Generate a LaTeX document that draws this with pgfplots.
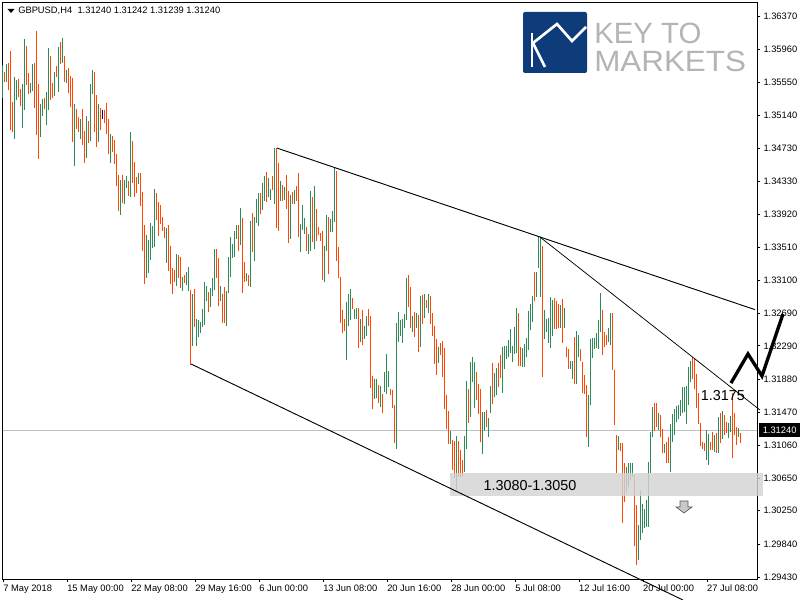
\documentclass[border=0pt]{standalone}
\usepackage{fontspec}
\setmainfont{Liberation Sans}
\usepackage{graphicx}
\usepackage{pgfplots}
\usepackage{pgfplotstable}
\pgfplotsset{compat=1.18}

\definecolor{upc}{RGB}{46,139,87}
\definecolor{dnc}{RGB}{255,69,0}
\definecolor{dojic}{RGB}{0,0,128}
\definecolor{logoblue}{RGB}{14,59,122}
\definecolor{logogray}{RGB}{180,180,180}
\definecolor{bandgray}{RGB}{211,211,211}
\definecolor{bidline}{RGB}{192,192,192}

% GBPUSD H4 bars: high, low, direction (1 up, 0 down, 2 doji)
\pgfplotstableread{
h l d
1.35764 1.35356 1
1.35677 1.35553 0
1.35777 1.35553 1
1.35789 1.35455 0
1.35938 1.34960 0
1.35306 1.34935 0
1.35615 1.34849 1
1.35578 1.35331 1
1.35591 1.35368 0
1.35467 1.35257 0
1.35529 1.34985 1
1.36086 1.35207 1
1.35999 1.35516 0
1.35665 1.35406 0
1.35541 1.35418 1
1.35777 1.35443 1
1.35789 1.35232 0
1.36185 1.34898 0
1.35529 1.34602 0
1.35282 1.34873 1
1.35344 1.35133 1
1.35356 1.35220 0
1.35430 1.35022 1
1.35974 1.35207 1
1.35876 1.35331 0
1.35541 1.35356 0
1.35677 1.35381 1
1.35752 1.35615 0
1.35986 1.35430 1
1.36048 1.35777 0
1.36098 1.35789 1
1.35876 1.35553 0
1.35702 1.35541 1
1.35727 1.35418 0
1.35628 1.35244 0
1.35603 1.34811 0
1.35282 1.34515 1
1.35220 1.34973 0
1.35120 1.34935 0
1.35096 1.34849 1
1.35220 1.34774 0
1.34948 1.34552 0
1.35133 1.34614 1
1.35072 1.34799 0
1.35529 1.34824 1
1.35702 1.35406 1
1.35677 1.34935 0
1.35393 1.34749 0
1.35282 1.34811 1
1.35232 1.34960 0
1.35207 1.35096 2
1.35207 1.35047 0
1.35294 1.34911 0
1.35096 1.34664 0
1.34911 1.34552 1
1.34886 1.34688 0
1.34836 1.34540 0
1.34664 1.34267 0
1.34403 1.33958 0
1.34341 1.33908 1
1.34403 1.34057 0
1.34341 1.34045 1
1.34391 1.34242 1
1.34329 1.34144 0
1.34935 1.34131 1
1.34824 1.34304 0
1.34564 1.34131 0
1.34378 1.34181 0
1.34428 1.34292 1
1.34428 1.34020 0
1.34193 1.33464 0
1.33785 1.33055 0
1.33661 1.33129 1
1.33599 1.33191 1
1.33810 1.33352 1
1.33773 1.33500 1
1.34230 1.33512 1
1.34181 1.33847 0
1.34069 1.33649 0
1.34032 1.33798 0
1.33883 1.33711 0
1.33760 1.33624 0
1.33748 1.33315 1
1.33785 1.33216 0
1.33525 1.33055 0
1.33253 1.32932 0
1.33228 1.33079 0
1.33427 1.33030 1
1.33414 1.33129 0
1.33389 1.33005 0
1.33141 1.32969 1
1.33166 1.33067 0
1.33203 1.33042 1
1.33265 1.32969 1
1.32981 1.32053 0
1.32932 1.32288 1
1.32993 1.32523 0
1.32622 1.32288 1
1.32610 1.32399 1
1.32585 1.32449 1
1.32746 1.32523 1
1.33079 1.32548 1
1.33030 1.32845 1
1.32956 1.32708 0
1.33005 1.32770 1
1.33129 1.32907 1
1.33488 1.32981 1
1.33488 1.33129 0
1.33377 1.32783 0
1.33030 1.32845 1
1.32932 1.32573 0
1.33017 1.32573 0
1.32969 1.32536 1
1.33389 1.32944 1
1.33636 1.33141 1
1.33550 1.33377 1
1.33711 1.33389 1
1.33785 1.33612 1
1.33785 1.33464 0
1.33995 1.33537 1
1.33871 1.32944 0
1.33327 1.33079 0
1.33191 1.33092 1
1.33166 1.33030 0
1.33835 1.33017 1
1.33933 1.33451 0
1.33883 1.33340 1
1.34107 1.33810 1
1.34181 1.33773 1
1.34181 1.33921 0
1.34304 1.33970 1
1.34391 1.34082 1
1.34440 1.34069 0
1.34366 1.34131 1
1.34230 1.34094 1
1.34391 1.34218 0
1.34737 1.34045 1
1.34737 1.33748 0
1.34552 1.33711 0
1.34329 1.34082 1
1.34279 1.34082 0
1.34254 1.34094 1
1.34403 1.33983 0
1.34206 1.33562 0
1.34156 1.33612 1
1.34193 1.34045 0
1.34218 1.34045 1
1.34267 1.34082 0
1.34428 1.33636 0
1.33798 1.33451 1
1.34032 1.33723 1
1.33871 1.33674 1
1.33760 1.33464 0
1.33674 1.33427 1
1.34206 1.33464 1
1.34131 1.33574 0
1.34267 1.33488 1
1.33983 1.33587 0
1.33760 1.33661 0
1.33686 1.33587 0
1.33711 1.33104 0
1.33525 1.33079 1
1.33908 1.33464 1
1.33883 1.33179 0
1.33859 1.33698 1
1.33958 1.33698 1
1.34490 1.33822 1
1.34453 1.33340 0
1.33512 1.33129 0
1.33141 1.32573 0
1.32733 1.32449 0
1.32622 1.32474 0
1.32832 1.32115 1
1.32932 1.32536 1
1.32993 1.32610 1
1.32882 1.32746 0
1.32746 1.32622 1
1.32758 1.32622 1
1.32758 1.32263 0
1.32622 1.32337 1
1.32733 1.32300 0
1.32536 1.32375 1
1.32659 1.32412 1
1.32746 1.32536 0
1.32659 1.31768 0
1.31917 1.31509 0
1.31880 1.31633 1
1.31880 1.31645 1
1.31805 1.31583 0
1.31793 1.31533 1
1.31695 1.31459 0
1.31966 1.31719 1
1.32190 1.31695 1
1.31979 1.31780 1
1.31756 1.31682 0
1.31744 1.31521 0
1.31558 1.31088 0
1.32573 1.31014 1
1.32708 1.32337 1
1.32610 1.32412 1
1.32622 1.32325 1
1.32684 1.32511 1
1.33129 1.32610 1
1.33166 1.32770 0
1.33017 1.32511 0
1.32659 1.32461 1
1.32708 1.32399 0
1.32696 1.32511 1
1.32671 1.32214 0
1.32907 1.32275 1
1.32919 1.32561 0
1.32932 1.32634 1
1.32857 1.32758 0
1.32932 1.32696 1
1.32907 1.32561 0
1.32696 1.32412 0
1.32536 1.32066 0
1.32375 1.31929 0
1.32275 1.32078 1
1.32325 1.32177 0
1.32350 1.31904 0
1.32263 1.31509 0
1.31682 1.31262 0
1.31484 1.31076 0
1.31237 1.31076 1
1.31125 1.30754 0
1.31113 1.30655 0
1.31175 1.30507 1
1.31113 1.30667 0
1.31002 1.30667 0
1.30878 1.30667 0
1.31175 1.30729 1
1.31855 1.31014 1
1.31756 1.31336 0
1.32090 1.31409 1
1.32152 1.31842 1
1.32090 1.31521 1
1.31966 1.31620 0
1.31818 1.31447 0
1.31756 1.31100 0
1.31471 1.30953 1
1.31471 1.31237 1
1.31496 1.31286 0
1.31397 1.31162 1
1.31793 1.31459 1
1.32078 1.31571 0
1.31954 1.31657 1
1.32016 1.31682 1
1.32078 1.31780 0
1.32177 1.31892 0
1.32275 1.31707 1
1.32288 1.32004 1
1.32288 1.32128 1
1.32362 1.32152 1
1.32499 1.32202 1
1.32288 1.32090 1
1.32523 1.32190 1
1.32758 1.32202 1
1.32696 1.32041 0
1.32275 1.32041 0
1.32263 1.32028 1
1.32313 1.32028 1
1.32387 1.32152 1
1.32721 1.32239 1
1.32808 1.32486 1
1.32907 1.32585 1
1.33203 1.32845 0
1.33203 1.32894 1
1.33636 1.33253 1
1.33624 1.32894 1
1.33525 1.31904 0
1.32733 1.32375 1
1.32622 1.32461 1
1.32634 1.32325 1
1.32894 1.32263 1
1.32857 1.32412 1
1.32882 1.32499 0
1.32845 1.32499 0
1.32808 1.32511 0
1.32795 1.32511 1
1.32870 1.32325 0
1.32758 1.32511 1
1.32275 1.32152 0
1.32251 1.32004 0
1.32103 1.32004 1
1.32103 1.31880 1
1.32399 1.31818 0
1.32474 1.31818 1
1.32424 1.32152 1
1.32251 1.32103 0
1.32090 1.31707 0
1.31929 1.31695 0
1.31805 1.31162 0
1.31682 1.31038 1
1.32375 1.31558 1
1.32387 1.32140 1
1.32387 1.32251 1
1.32449 1.32263 1
1.32610 1.32251 1
1.32944 1.32461 1
1.32733 1.32177 0
1.32461 1.32275 0
1.32424 1.32300 0
1.32511 1.32337 1
1.32696 1.32300 1
1.32696 1.31991 0
1.31991 1.31311 0
1.31187 1.30717 0
1.31175 1.31002 1
1.31088 1.30990 0
1.31088 1.30099 0
1.30841 1.30358 0
1.30791 1.30470 1
1.30841 1.30543 1
1.30841 1.30630 1
1.30841 1.30667 1
1.30692 1.29814 0
1.30321 1.29579 0
1.30074 1.29641 1
1.30507 1.29888 1
1.30334 1.29975 1
1.30272 1.30037 1
1.30383 1.30049 1
1.30853 1.30049 1
1.31224 1.30717 1
1.31533 1.31162 1
1.31583 1.31237 0
1.31583 1.31286 0
1.31459 1.31249 1
1.31434 1.31162 0
1.31262 1.30965 0
1.31076 1.30965 1
1.31100 1.30841 0
1.31162 1.30841 0
1.31324 1.30729 1
1.31447 1.31100 1
1.31509 1.31187 1
1.31546 1.31348 1
1.31558 1.31385 1
1.31620 1.31422 1
1.31780 1.31459 1
1.31780 1.31471 1
1.31793 1.31324 1
1.32028 1.31558 1
1.32103 1.31842 1
1.32152 1.31880 0
1.32128 1.31756 0
1.31942 1.31521 0
1.31707 1.31324 0
1.31336 1.31051 0
1.31100 1.31014 0
1.31088 1.30990 0
1.31249 1.30878 1
1.31200 1.30816 1
1.31100 1.31002 0
1.31224 1.31002 0
1.31187 1.30977 1
1.31212 1.30965 0
1.31409 1.30965 1
1.31459 1.31088 0
1.31484 1.31138 1
1.31434 1.31187 0
1.31348 1.31212 0
1.31336 1.31150 1
1.31422 1.31224 1
1.31707 1.30903 0
1.31459 1.31187 0
1.31286 1.31063 0
1.31274 1.31162 1
1.31212 1.31088 0
}\bars

\begin{document}
\begin{tikzpicture}
\begin{axis}[
    at={(0,0)}, anchor=south west,
    scale only axis, width=565.7pt, height=432.2pt,
    xmin=-0.15, xmax=377, ymin=1.29406, ymax=1.36535,
    clip=false,
    axis line style={line width=0.6pt},
    tick align=outside, major tick length=2.5pt,
    tick style={black, line width=0.6pt},
    xtick pos=bottom, ytick pos=right, yticklabel pos=right,
    ytick={1.36370,1.35960,1.35550,1.35140,1.34730,1.34330,1.33920,1.33510,1.33100,
           1.32690,1.32290,1.31880,1.31470,1.31060,1.30650,1.30250,1.29840,1.29430},
    yticklabels={1.36370,1.35960,1.35550,1.35140,1.34730,1.34330,1.33920,1.33510,1.33100,
           1.32690,1.32290,1.31880,1.31470,1.31060,1.30650,1.30250,1.29840,1.29430},
    xtick={0,32,...,352},
    xticklabels={7 May 2018,15 May 00:00,22 May 08:00,29 May 16:00,6 Jun 00:00,
           13 Jun 08:00,20 Jun 16:00,28 Jun 00:00,5 Jul 08:00,12 Jul 16:00,
           20 Jul 00:00,27 Jul 08:00},
    tick label style={font=\fontsize{7}{8}\selectfont},
    yticklabel style={anchor=west, inner sep=0pt, xshift=2.2pt},
    xticklabel style={anchor=north west, inner sep=0pt, yshift=-1.5pt},
]
% bid line
\draw[bidline, line width=0.75pt] (axis cs:-0.15,1.31240) -- (axis cs:377,1.31240);

% bars
\addplot[upc, line width=0.75pt, mark=none,
    restrict expr to domain={\thisrow{d}}{0.5:1.5},
    quiver={u=0, v=\thisrow{h}-\thisrow{l}}]
    table[x expr=\coordindex, y=l] {\bars};
\addplot[dnc, line width=0.75pt, mark=none,
    restrict expr to domain={\thisrow{d}}{-0.5:0.5},
    quiver={u=0, v=\thisrow{h}-\thisrow{l}}]
    table[x expr=\coordindex, y=l] {\bars};
\addplot[dojic, line width=0.75pt, mark=none,
    restrict expr to domain={\thisrow{d}}{1.5:2.5},
    quiver={u=0, v=\thisrow{h}-\thisrow{l}}]
    table[x expr=\coordindex, y=l] {\bars};

% support zone
\fill[bandgray, opacity=0.82] (axis cs:223.5,1.30717) rectangle (axis cs:380,1.30432);
\node[font=\fontsize{10.8}{13}\selectfont, inner sep=0pt] at (axis cs:263.5,1.30566) {1.3080-1.3050};

% trend lines
\draw[black, line width=0.7pt] (axis cs:137,1.34737) -- (axis cs:376,1.32738);
\draw[black, line width=0.7pt] (axis cs:94,1.32066) -- (axis cs:340,1.29146);
\draw[black, line width=0.55pt] (axis cs:268.5,1.33636) -- (axis cs:378.5,1.31496);
\draw[black, line width=2.5pt] (axis cs:364,1.31830) -- (axis cs:372.5,1.32190)
    -- (axis cs:379.5,1.31917) -- (axis cs:390,1.32684);
\node[font=\fontsize{10.8}{13}\selectfont, inner sep=0pt] at (axis cs:360,1.31670) {1.3175};
\end{axis}

% pixel-based overlay (x right, y down, 1px = 0.75pt)
\begin{scope}[x=0.75pt, y=-0.75pt, shift={(-2.025pt,434.25pt)}]
  % header
  \fill[black] (7.5,9) -- (14.5,9) -- (11,13) -- cycle;
  \node[anchor=west, inner sep=0pt, font=\fontsize{7}{8}\selectfont] at (18,11)
    {GBPUSD,H4\hspace{4pt}1.31240 1.31242 1.31239 1.31240};
  % current price box
  \fill[black] (758.5,423.5) rectangle (800,437);
  \node[anchor=west, inner sep=0pt, text=white, font=\fontsize{7}{8}\selectfont] at (762.5,430.3) {1.31240};
  % down arrow
  \filldraw[fill={rgb,255:red,200;green,200;blue,200}, draw={rgb,255:red,90;green,90;blue,90}, line width=0.5pt]
    (680,501) -- (688,501) -- (688,507) -- (692,507) -- (684,513) -- (676,507) -- (680,507) -- cycle;
  % logo
  \fill[logoblue, rounded corners=1.5pt] (523,12) rectangle (587,73);
  \draw[white, line width=2pt] (532,33) -- (532,67);
  \draw[white, line width=2pt, line join=miter] (545,67) -- (533,43) -- (557,24) -- (572,41) -- (586,27);
  \node[anchor=base west, inner sep=0pt, text=logogray, font=\fontsize{22}{24}\selectfont] at (594,44) {KEY TO};
  \node[anchor=base west, inner sep=0pt, text=logogray, font=\fontsize{22}{24}\selectfont] at (594,72) {\scalebox{1.07}[1]{MARKETS}};
  \pgfresetboundingbox
  \useasboundingbox (0,0) rectangle (800,600);
\end{scope}
\end{tikzpicture}
\end{document}
